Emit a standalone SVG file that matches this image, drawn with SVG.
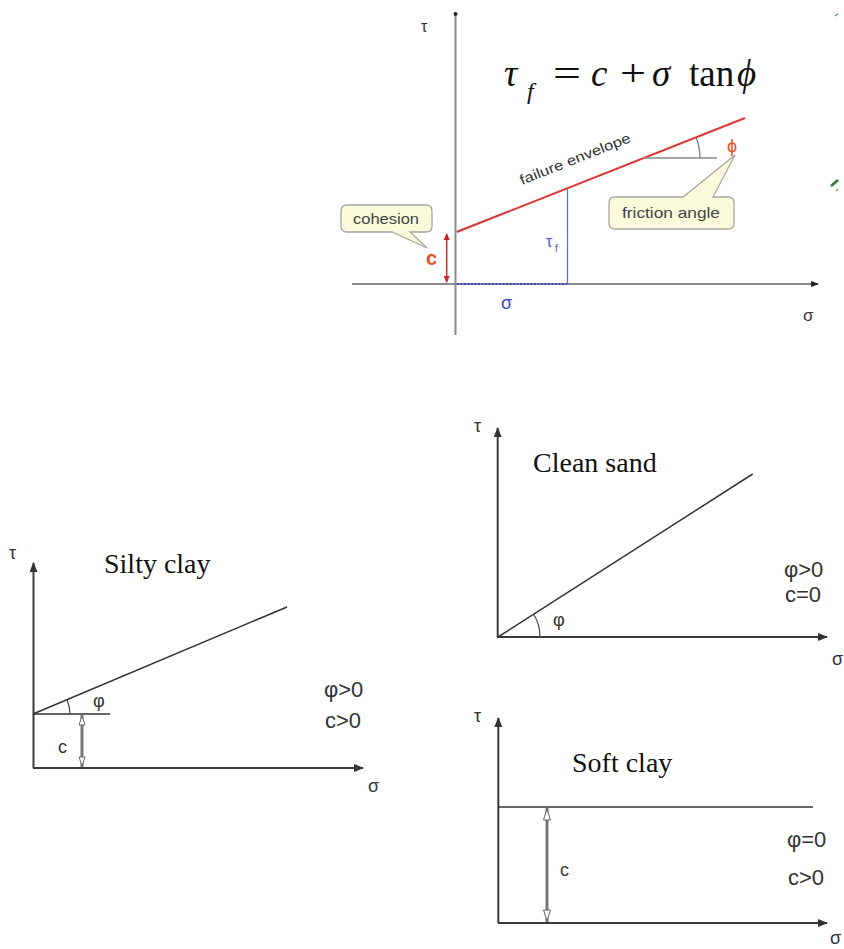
<svg xmlns="http://www.w3.org/2000/svg" width="844" height="949" viewBox="0 0 844 949">
<style>
.ax1{stroke:#8a8a8a;stroke-width:2;fill:none}
.ax2{stroke:#3a3a3a;stroke-width:2;fill:none}
.ln{stroke:#333;stroke-width:1.5;fill:none}
.arc{stroke:#444;stroke-width:1.2;fill:none}
.sans{font-family:"Liberation Sans",Arial,sans-serif}
.serif{font-family:"Liberation Serif","Times New Roman",serif}
.ttl{font-family:"Liberation Serif","Times New Roman",serif;font-size:28px;fill:#111}
.cond{font-family:"Liberation Sans",Arial,sans-serif;font-size:22px;fill:#333}
.lbl{font-family:"Liberation Sans",Arial,sans-serif;font-size:18px;fill:#333}
.call{fill:#fbfbdc;stroke:#a8a8a0;stroke-width:1.3}
.dbl{stroke:#777;stroke-width:3;fill:none}
.hol{fill:#fff;stroke:#666;stroke-width:1}
</style>
<defs>
<marker id="ah" markerWidth="10" markerHeight="8" refX="9" refY="4" orient="auto" markerUnits="userSpaceOnUse">
<path d="M0,0 L10,4 L0,8 Z" fill="#333"/>
</marker>
<marker id="ahs" markerWidth="8" markerHeight="6" refX="7" refY="3" orient="auto" markerUnits="userSpaceOnUse">
<path d="M0,0 L8,3 L0,6 Z" fill="#222"/>
</marker>
<marker id="ahr" markerWidth="7" markerHeight="6" refX="6" refY="3" orient="auto-start-reverse" markerUnits="userSpaceOnUse">
<path d="M0,0 L7,3 L0,6 Z" fill="#d62020"/>
</marker>
</defs>

<!-- Top general diagram -->
<g id="top-diagram">
<g id="top-axes">
<line class="ax1" x1="455.5" y1="335" x2="455.5" y2="16"/>
<circle cx="455.5" cy="14" r="2" fill="#222"/>
<line class="ax1" x1="352" y1="284" x2="818" y2="284" marker-end="url(#ahs)"/>
<text class="sans" x="421" y="32" font-size="16" fill="#333">τ</text>
<text class="sans" x="803" y="321" font-size="17" fill="#333">σ</text>
</g>
<g id="formula" class="serif" fill="#111">
<text x="504" y="86" font-size="37" font-style="italic">τ</text>
<text x="527" y="99" font-size="24" font-style="italic">f</text>
<text x="553" y="86" font-size="37" textLength="28" lengthAdjust="spacingAndGlyphs">=</text>
<text x="591" y="86" font-size="37" font-style="italic">c</text>
<text x="620" y="86" font-size="37" textLength="26" lengthAdjust="spacingAndGlyphs">+</text>
<text x="652" y="86" font-size="37" font-style="italic">σ</text>
<text x="689" y="86" font-size="37">tan</text>
<text x="737" y="86" font-size="37" font-style="italic">ϕ</text>
</g>
<g id="failure-envelope">
<line x1="456.7" y1="232" x2="745" y2="118" stroke="#e03434" stroke-width="2"/>
<text class="sans" font-size="14" fill="#333" transform="translate(522,185) rotate(-21.6)" textLength="118" lengthAdjust="spacingAndGlyphs">failure envelope</text>
<line x1="643" y1="158" x2="717" y2="158" stroke="#888" stroke-width="1.3"/>
<path d="M696,137 A57,57 0 0 1 700,158" stroke="#777" stroke-width="1.2" fill="none"/>
<text class="sans" x="727" y="152" font-size="18" fill="#e8502a">ϕ</text>
</g>
<g id="tau-f">
<line x1="567.5" y1="189" x2="567.5" y2="284" stroke="#6070d8" stroke-width="1.3"/>
<line x1="457" y1="284" x2="567" y2="284" stroke="#3848c8" stroke-width="2" stroke-dasharray="2,1.5"/>
<text class="sans" x="546" y="247" font-size="16" fill="#4a5ad0">τ</text>
<text class="sans" x="555" y="252" font-size="10" fill="#4a5ad0">f</text>
<text class="sans" x="501" y="309" font-size="18" fill="#3848c8">σ</text>
</g>
<g id="cohesion-c">
<line x1="446.7" y1="234" x2="446.7" y2="282" stroke="#d62020" stroke-width="1.4" marker-start="url(#ahr)" marker-end="url(#ahr)"/>
<text class="sans" x="426" y="265" font-size="20" font-weight="bold" fill="#e8502a">c</text>
</g>
<g id="callout-cohesion">
<path class="call" d="M347,205 H426 Q432,205 432,211 V226 Q432,232 426,232 H410 L427,248 L392,232 H347 Q341,232 341,226 V211 Q341,205 347,205 Z"/>
<text class="sans" x="386" y="224" font-size="14" fill="#444" text-anchor="middle" textLength="66" lengthAdjust="spacingAndGlyphs">cohesion</text>
</g>
<g id="callout-friction">
<path class="call" d="M615,197 H683 L735,155 L713,197 H728 Q734,197 734,203 V223 Q734,229 728,229 H615 Q609,229 609,223 V203 Q609,197 615,197 Z"/>
<text class="sans" x="671" y="218" font-size="14" fill="#444" text-anchor="middle" textLength="98" lengthAdjust="spacingAndGlyphs">friction angle</text>
</g>
<g id="green-marks">
<path d="M835,16 L838,14" stroke="#4a9a4a" stroke-width="1.5"/>
<path d="M831,186 L838,180" stroke="#2d7d2d" stroke-width="2.5"/>
<path d="M836,191 L838,189" stroke="#6aaa6a" stroke-width="1.5"/>
</g>
</g>

<!-- Silty clay -->
<g id="silty-clay">
<line class="ax2" x1="33.5" y1="768" x2="33.5" y2="563" marker-end="url(#ah)"/>
<line class="ax2" x1="33" y1="768" x2="363" y2="768" marker-end="url(#ah)"/>
<text class="lbl" x="9" y="559">τ</text>
<text class="lbl" x="368" y="792">σ</text>
<text class="ttl" x="104" y="573">Silty clay</text>
<line class="ln" x1="33" y1="714" x2="287" y2="607"/>
<line class="ln" x1="33" y1="714" x2="110" y2="714"/>
<path class="arc" d="M67,700 A37,37 0 0 1 70,714"/>
<text class="lbl" x="93" y="707">φ</text>
<line class="dbl" x1="82" y1="715" x2="82" y2="767"/>
<path class="hol" d="M82,716 L85,725 L79,725 Z"/>
<path class="hol" d="M82,766 L85,757 L79,757 Z"/>
<text class="lbl" x="58" y="753">c</text>
<text class="cond" x="324" y="697">φ&gt;0</text>
<text class="cond" x="325" y="728">c&gt;0</text>
</g>

<!-- Clean sand -->
<g id="clean-sand">
<line class="ax2" x1="497.7" y1="637" x2="497.7" y2="428" marker-end="url(#ah)"/>
<line class="ax2" x1="497" y1="637" x2="827" y2="637" marker-end="url(#ah)"/>
<text class="lbl" x="474" y="432">τ</text>
<text class="lbl" x="832" y="665">σ</text>
<text class="ttl" x="533" y="472">Clean sand</text>
<line class="ln" x1="498" y1="637" x2="752.7" y2="474"/>
<path class="arc" d="M533.5,614 A42,42 0 0 1 540,637"/>
<text class="lbl" x="553" y="626">φ</text>
<text class="cond" x="784" y="577">φ&gt;0</text>
<text class="cond" x="785" y="602">c=0</text>
</g>

<!-- Soft clay -->
<g id="soft-clay">
<line class="ax2" x1="498.3" y1="923" x2="498.3" y2="718" marker-end="url(#ah)"/>
<line class="ax2" x1="498" y1="923" x2="827" y2="923" marker-end="url(#ah)"/>
<text class="lbl" x="474" y="722">τ</text>
<text class="lbl" x="830" y="944" font-size="17">σ</text>
<text class="ttl" x="572" y="772">Soft clay</text>
<line class="ln" x1="498" y1="807" x2="813" y2="807"/>
<line class="dbl" x1="547" y1="808" x2="547" y2="922"/>
<path class="hol" d="M547,809 L550.5,820 L543.5,820 Z"/>
<path class="hol" d="M547,921 L550.5,910 L543.5,910 Z"/>
<text class="lbl" x="560" y="876">c</text>
<text class="cond" x="787" y="847">φ=0</text>
<text class="cond" x="788" y="885">c&gt;0</text>
</g>
</svg>
